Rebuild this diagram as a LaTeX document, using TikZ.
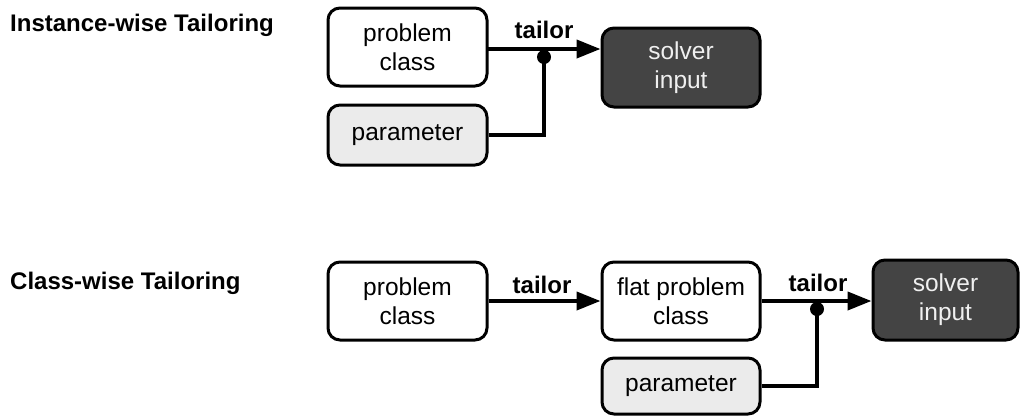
\documentclass[tikz,border=0pt]{standalone}
\usepackage{fontspec}
\setmainfont{Liberation Sans}
\usetikzlibrary{arrows.meta}
\definecolor{darkbox}{HTML}{444444}
\definecolor{lightbox}{HTML}{EBEBEB}
\definecolor{lighttext}{HTML}{F0F0F0}
\begin{document}
\begin{tikzpicture}[x=1pt,y=-1pt,
  box/.style={draw=black, line width=3pt, rounded corners=12pt, align=center,
    inner sep=0pt, font=\fontsize{24.5}{29}\selectfont},
  whitebox/.style={box, fill=white},
  graybox/.style={box, fill=lightbox},
  darkbx/.style={box, fill=darkbox, text=lighttext},
  conn/.style={line width=4pt, -{Triangle[length=24pt,width=18pt]}},
  wire/.style={line width=4pt},
  junction/.style={circle, fill=black, inner sep=0pt, minimum size=14pt},
  lbl/.style={font=\bfseries\fontsize{24}{28}\selectfont, inner sep=0pt},
  title/.style={font=\bfseries\fontsize{24}{28}\selectfont, anchor=west, inner sep=0pt}]
\useasboundingbox (0,0) rectangle (1021,416);

% Instance-wise
\node[title] (t1) at (10,25) {Instance-wise Tailoring};
\node[whitebox, minimum width=159pt, minimum height=78pt] (pc1) at (407.5,47) {problem\\class};
\node[graybox, minimum width=159pt, minimum height=60pt] (p1) at (407.5,135) {parameter};
\node[darkbx, minimum width=158pt, minimum height=79pt] (s1) at (681,67.5) {solver\\input};
\coordinate (a1) at (487,49);
\node[junction] (d1) at (544,57) {};
\draw[conn] (a1) -- (a1 -| s1.west);
\draw[wire] (p1.east) -| (d1.center);
\node[lbl] (l1) at (544,30) {tailor};

% Class-wise
\node[title] (t2) at (10,283) {Class-wise Tailoring};
\node[whitebox, minimum width=159pt, minimum height=78pt] (pc2) at (407.5,301) {problem\\class};
\node[whitebox, minimum width=158pt, minimum height=78pt] (fp) at (681,301) {flat problem\\class};
\node[darkbx, minimum width=145pt, minimum height=80pt] (s2) at (945.5,300) {solver\\input};
\node[graybox, minimum width=158pt, minimum height=56pt] (p2) at (681,386) {parameter};
\node[junction] (d2) at (817,309) {};
\draw[conn] (pc2.east) -- (fp.west);
\draw[conn] (fp.east) -- (fp.east -| s2.west);
\draw[wire] (p2.east) -| (d2.center);
\node[lbl] (l2) at (542,285) {tailor};
\node[lbl] (l3) at (818,283) {tailor};
\end{tikzpicture}
\end{document}
